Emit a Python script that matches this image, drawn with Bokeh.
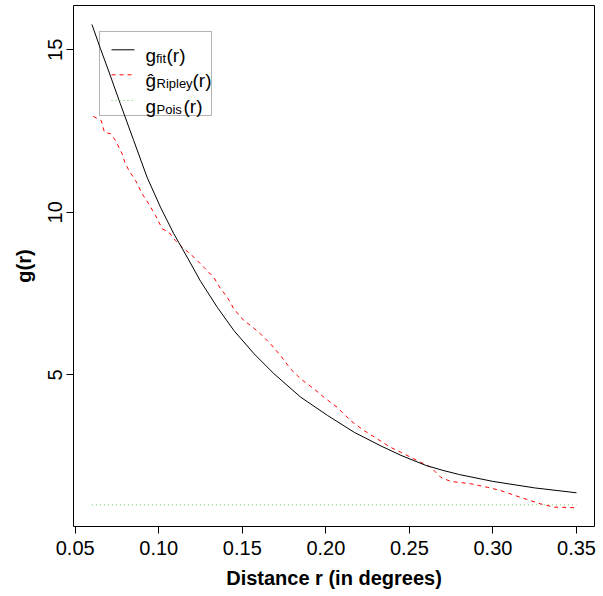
from bokeh.plotting import figure
from bokeh.models import Range1d, FixedTicker, NumeralTickFormatter, BoxAnnotation, Label
from bokeh.embed import file_html
from bokeh.resources import INLINE

# ---- data ----
fit_r = [0.060, 0.065, 0.070, 0.077, 0.085, 0.093, 0.101, 0.109, 0.117, 0.125, 0.135,
         0.145, 0.157, 0.169, 0.185, 0.201, 0.217, 0.233, 0.245, 0.260, 0.270, 0.280,
         0.300, 0.325, 0.350]
fit_g = [15.78, 15.05, 14.35, 13.34, 12.21, 11.08, 10.16, 9.34, 8.62, 7.88, 7.08,
         6.36, 5.65, 5.03, 4.31, 3.75, 3.23, 2.81, 2.52, 2.21, 2.06, 1.93,
         1.72, 1.52, 1.37]

rip_r = [0.0608, 0.0656, 0.0675, 0.0711, 0.0741, 0.0781, 0.0797, 0.0821, 0.0861, 0.0901,
         0.0940, 0.0981, 0.1021, 0.1060, 0.1100, 0.1140, 0.1210, 0.1270, 0.1329, 0.1370,
         0.1410, 0.1449, 0.1509, 0.1549, 0.1609, 0.1669, 0.1729, 0.1789, 0.1848, 0.1928,
         0.1988, 0.2068, 0.2148, 0.2227, 0.2307, 0.2387, 0.2447, 0.2567, 0.2627, 0.2687,
         0.2746, 0.2866, 0.2966, 0.3045, 0.3165, 0.3285, 0.3365, 0.3500]
rip_g = [12.95, 12.82, 12.46, 12.42, 12.21, 11.80, 11.54, 11.29, 10.98, 10.57,
         10.26, 9.90, 9.49, 9.39, 9.13, 8.93, 8.62, 8.31, 8.00, 7.65,
         7.39, 7.03, 6.67, 6.52, 6.26, 5.95, 5.59, 5.18, 4.88, 4.57,
         4.31, 4.00, 3.59, 3.29, 3.03, 2.77, 2.62, 2.31, 2.16, 1.85,
         1.72, 1.65, 1.54, 1.44, 1.23, 1.03, 0.93, 0.91]

pois_r = [0.06, 0.35]
pois_g = [1.0, 1.0]

x_ticks = [0.05, 0.10, 0.15, 0.20, 0.25, 0.30, 0.35]
y_ticks = [5, 10, 15]

# ---- layout ----
X0, X1 = 0.04898, 0.36077
Y0, Y1 = 0.333, 16.363
W, H = 600, 594
FL, FR, FT, FB = 73, 594, 5, 526   # frame edges in page pixels
FONT = "Liberation Sans"

def dx(px):
    return X0 + (px - FL) * (X1 - X0) / (FR - FL)

def dy(py):
    return Y1 - (py - FT) * (Y1 - Y0) / (FB - FT)

p = figure(width=W, height=H, x_range=Range1d(X0, X1), y_range=Range1d(Y0, Y1),
           output_backend="svg", toolbar_location=None,
           min_border_left=FL, min_border_right=W - FR, min_border_top=FT,
           min_border_bottom=H - FB)
p.grid.visible = False
p.outline_line_color = "black"
p.outline_line_width = 1
p.background_fill_color = "white"
p.border_fill_color = "white"

for ax in (p.xaxis[0], p.yaxis[0]):
    ax.axis_line_color = None
    ax.major_tick_out = 7
    ax.major_tick_in = 0
    ax.minor_tick_line_color = None
    ax.major_tick_line_color = "black"
    ax.major_label_text_font = FONT
    ax.major_label_text_font_size = "20px"
    ax.major_label_text_color = "black"
    ax.axis_label_text_font = FONT
    ax.axis_label_text_font_size = "20px"
    ax.axis_label_text_font_style = "bold"
    ax.axis_label_text_color = "black"

p.xaxis.ticker = FixedTicker(ticks=x_ticks)
p.xaxis.formatter = NumeralTickFormatter(format="0.00")
p.xaxis.major_label_standoff = 7
p.xaxis.axis_label = "Distance r (in degrees)"
p.xaxis.axis_label_standoff = 9

p.yaxis.ticker = FixedTicker(ticks=y_ticks)
p.yaxis.major_label_orientation = "vertical"
p.yaxis.major_label_standoff = 4
p.yaxis.axis_label = "g(r)"
p.yaxis.axis_label_standoff = 11

# ---- series ----
p.line(pois_r, pois_g, line_color="#5fd35f", line_width=1, line_dash="1 3")
p.line(rip_r, rip_g, line_color="red", line_width=1, line_dash="4 4")
p.line(fit_r, fit_g, line_color="black", line_width=1)

# ---- legend (manual, R style) ----
p.add_layout(BoxAnnotation(left=dx(99), right=dx(211), top=dy(31), bottom=dy(115),
                           fill_alpha=0, line_color="black", line_width=1))
rows = [(49.3, "black", None, "g", "fit", 155.5, 166, 54.5),
        (74.3, "red", "4 4", "\u011d", "Ripley", 156, 192, 80.3),
        (100.0, "#5fd35f", "1 3", "g", "Pois", 156, 183, 106)]
for yc, col, dash, main, sub, sx, rx, base in rows:
    kw = {} if dash is None else {"line_dash": dash}
    p.segment(x0=[dx(111)], y0=[dy(yc)], x1=[dx(134)], y1=[dy(yc)],
              line_color=col, line_width=1, **kw)
    p.add_layout(Label(x=dx(145), y=dy(base), text=main, text_font=FONT,
                       text_font_size="19px", text_baseline="alphabetic", text_color="black"))
    p.add_layout(Label(x=dx(sx), y=dy(base + 3), text=sub, text_font=FONT,
                       text_font_size="13px", text_baseline="alphabetic", text_color="black"))
    p.add_layout(Label(x=dx(rx), y=dy(base), text="(r)", text_font=FONT,
                       text_font_size="19px", text_baseline="alphabetic", text_color="black"))

open("out.html", "w").write(file_html(p, INLINE))
